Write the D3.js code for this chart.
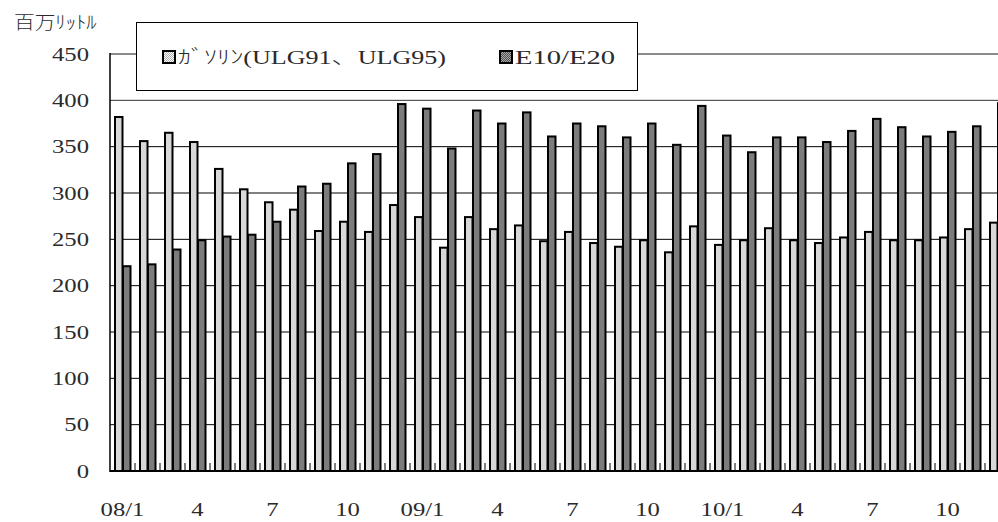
<!DOCTYPE html>
<html>
<head>
<meta charset="utf-8">
<script src="https://cdn.jsdelivr.net/npm/d3@7"></script>
<style>
  body { margin: 0; background: #fff; }
  svg text { font-family: "Liberation Serif", "Noto Sans CJK JP", serif; font-weight: normal; fill: #2a2a2a; }
</style>
</head>
<body>
<div id="chart"></div>
<script>
'use strict';

// monthly labels, 2008/1 .. 2010/12
const months = ["08/1","2","3","4","5","6","7","8","9","10","11","12",
                "09/1","2","3","4","5","6","7","8","9","10","11","12",
                "10/1","2","3","4","5","6","7","8","9","10","11","12"];
const labelEvery = 3; // only 1, 4, 7, 10 are written

// gasoline (ULG91, ULG95), million litres
const gasoline = [382, 356, 365, 355, 326, 304, 290, 282, 259, 269, 258, 287,
                  274, 241, 274, 261, 265, 248, 258, 246, 242, 249, 236, 264,
                  244, 249, 262, 249, 246, 252, 258, 249, 249, 252, 261, 268];
// E10/E20
const e10 = [221, 223, 239, 249, 253, 255, 269, 307, 310, 332, 342, 396,
             391, 348, 389, 375, 387, 361, 375, 372, 360, 375, 352, 394,
             362, 344, 360, 360, 355, 367, 380, 371, 361, 366, 372, 397];

const yTicks = [0, 50, 100, 150, 200, 250, 300, 350, 400, 450];
const seriesNames = ["ｶﾞｿﾘﾝ(ULG91、ULG95)", "E10/E20"];

const W = 998, H = 522;
const sx = 1.3; // reference text is drawn wide

const svg = d3.select('#chart').append('svg')
  .attr('width', W)
  .attr('height', H);

// fill patterns
const defs = svg.append('defs');
function makePattern(id, bg, dot) {
  let p = defs.append('pattern')
    .attr('id', id)
    .attr('patternUnits', 'userSpaceOnUse')
    .attr('width', 2).attr('height', 2);
  p.append('rect').attr('width', 2).attr('height', 2).attr('fill', bg);
  p.append('rect').attr('width', 1).attr('height', 1).attr('fill', dot);
  p.append('rect').attr('x', 1).attr('y', 1).attr('width', 1).attr('height', 1).attr('fill', dot);
}
makePattern('patGas', '#ffffff', '#b0b0b0');
makePattern('patE10', '#a8a8a8', '#505050');
const fills = ['url(#patGas)', 'url(#patE10)'];

// scales
const x = d3.scaleBand()
  .domain(d3.range(months.length))
  .range([110, 1010])
  .paddingInner(0.36)
  .paddingOuter(0.18);

const xSub = d3.scaleBand()
  .domain([0, 1])
  .range([0, x.bandwidth()]);

const y = d3.scaleLinear()
  .domain([0, 450])
  .range([471, 54]);

// grid lines
svg.append('g')
  .selectAll('line')
  .data(yTicks.filter(d => d > 0))
  .enter()
  .append('line')
    .attr('x1', 110).attr('x2', W)
    .attr('y1', d => y(d)).attr('y2', d => y(d))
    .attr('stroke', d => d === 450 ? '#8c8c8c' : (d === 400 ? '#333' : '#000'))
    .attr('stroke-width', d => d === 450 ? 2 : 1);

// bars
const groups = svg.append('g')
  .selectAll('g')
  .data(months.map((m, i) => i))
  .enter()
  .append('g')
    .attr('transform', i => 'translate(' + x(i) + ',0)');

groups.selectAll('rect')
  .data(i => [gasoline[i], e10[i]])
  .enter()
  .append('rect')
    .attr('x', (d, j) => xSub(j) + 0.5)
    .attr('y', d => y(d))
    .attr('width', xSub.bandwidth() - 0.5)
    .attr('height', d => y(0) - y(d))
    .attr('fill', (d, j) => fills[j])
    .attr('stroke', '#000')
    .attr('stroke-width', 2);

// category separator ticks
svg.append('g')
  .selectAll('line')
  .data(d3.range(1, months.length))
  .enter()
  .append('line')
    .attr('x1', i => 110 + x.step() * i)
    .attr('x2', i => 110 + x.step() * i)
    .attr('y1', 471).attr('y2', 463)
    .attr('stroke', '#000');

// x axis
const xAxis = d3.axisBottom(x)
  .tickValues(d3.range(0, months.length, labelEvery))
  .tickFormat(i => months[i])
  .tickSize(0)
  .tickPadding(32);
const gx = svg.append('g')
  .attr('transform', 'translate(0,471)')
  .call(xAxis);
gx.select('.domain').remove();
gx.selectAll('text')
  .style('font-size', '19px')
  .attr('transform', 'scale(' + sx + ',1)');
svg.append('line')
  .attr('x1', 110).attr('x2', W)
  .attr('y1', 471).attr('y2', 471)
  .attr('stroke', '#000').attr('stroke-width', 2);

// y axis
const yAxis = d3.axisLeft(y)
  .tickValues(yTicks)
  .tickSize(0);
const gy = svg.append('g')
  .attr('transform', 'translate(110,0)')
  .call(yAxis);
gy.select('.domain').remove();
gy.selectAll('text')
  .style('font-size', '19px')
  .attr('x', -21 / sx)
  .attr('transform', 'scale(' + sx + ',1)');
svg.append('line')
  .attr('x1', 110).attr('x2', 110)
  .attr('y1', 53).attr('y2', 472)
  .attr('stroke', '#000').attr('stroke-width', 1.5);

// unit label
svg.append('text')
  .attr('transform', 'translate(14,29) scale(1.15,1)')
  .style('font-size', '18px')
  .style('font-weight', '300')
  .text('百万ﾘｯﾄﾙ');

// legend
const legend = svg.append('g');
legend.append('rect')
  .attr('x', 136.5).attr('y', 22.5)
  .attr('width', 501).attr('height', 68)
  .attr('fill', '#fff')
  .attr('stroke', '#000');

const legendX = [163, 500];
const legendLen = [268, 100];
const legendItem = legend.selectAll('.legendItem')
  .data(seriesNames)
  .enter()
  .append('g')
    .attr('transform', (d, i) => 'translate(' + legendX[i] + ',51)');
legendItem.append('rect')
  .attr('width', 12).attr('height', 12)
  .attr('fill', (d, i) => fills[i])
  .attr('stroke', '#000')
  .attr('stroke-width', 2);
legendItem.append('text')
  .attr('x', 15).attr('y', 12.5)
  .attr('textLength', (d, i) => legendLen[i])
  .attr('lengthAdjust', 'spacingAndGlyphs')
  .style('font-size', '19px')
  .style('font-weight', '300')
  .text(d => d);
</script>
</body>
</html>
